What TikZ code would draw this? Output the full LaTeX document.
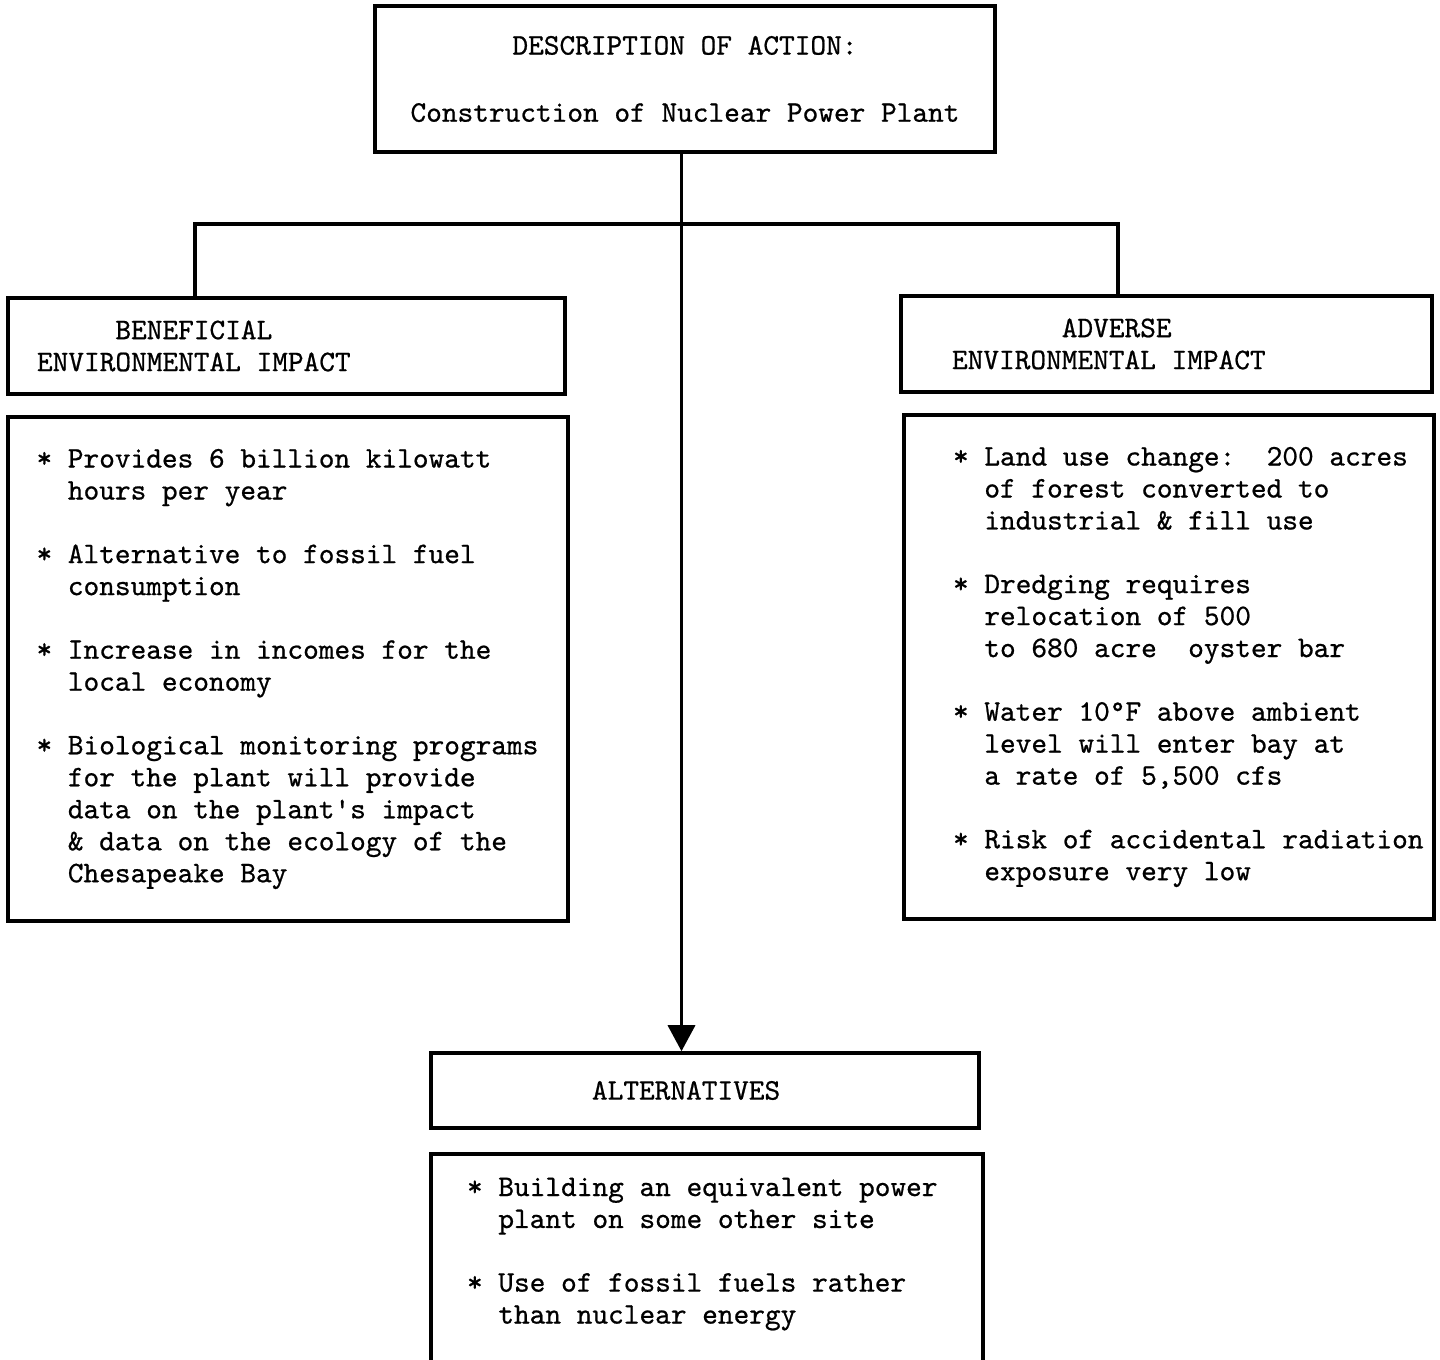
\documentclass[tikz,border=0pt]{standalone}
\usepackage{fontspec}
\usepackage{tikz}
\usetikzlibrary{arrows.meta}

% typewriter text with fixed word spaces
\newfontfamily\typerfont{lmmono10-regular}[Extension=.otf,FakeBold=0.7]
\newcommand\typer{\typerfont\fontsize{8.5}{9.1}\selectfont\frenchspacing}
\newcommand\fixspace{\spaceskip=\fontdimen2\font\relax\xspaceskip=\fontdimen2\font\relax}

\begin{document}
\begin{tikzpicture}[
    font=\typer,
    box/.style={shape=rectangle,draw=black,line width=1pt,execute at begin node=\fixspace},
    wire/.style={draw=black,line width=1pt}]
  \path[use as bounding box,clip] (0,0) rectangle (14.4,-13.6);

  \node[box,minimum width=6.20cm,minimum height=1.46cm,align=center] (action) at (6.85,-0.79)
    {DESCRIPTION OF ACTION:\\[10pt]Construction of Nuclear Power Plant};

  \node[box,inner xsep=0.29cm,text width=4.99cm,minimum height=0.96cm,align=left] (benhead) at (2.865,-3.46)
    {\phantom{ENVIR}BENEFICIAL\\ENVIRONMENTAL IMPACT};
  \node[box,inner xsep=0.51cm,text width=4.29cm,minimum height=0.96cm,align=left] (advhead) at (11.665,-3.44)
    {\phantom{ENVIRON}ADVERSE\\ENVIRONMENTAL IMPACT};

  \node[box,inner xsep=0.285cm,text width=5.03cm,minimum height=5.04cm,align=left] (benbody) at (2.88,-6.69)
    {* Provides 6 billion kilowatt\\
     \phantom{**}hours per year\\[9pt]
     * Alternative to fossil fuel\\
     \phantom{**}consumption\\[9pt]
     * Increase in incomes for the\\
     \phantom{**}local economy\\[9pt]
     \mbox{* Biological monitoring programs}\\
     \phantom{**}for the plant will provide\\
     \phantom{**}data on the plant's impact\\
     \phantom{**}\& data on the ecology of the\\
     \phantom{**}Chesapeake Bay};
  \node[box,inner xsep=0.49cm,text width=4.32cm,minimum height=5.04cm,align=left] (advbody) at (11.69,-6.67)
    {\mbox{* Land use change:~ 200 acres}\\
     \phantom{**}of forest converted to\\
     \phantom{**}industrial \& fill use\\[9pt]
     * Dredging requires\\
     \phantom{**}relocation of 500\\
     \phantom{**}to 680 acre~ oyster bar\\[9pt]
     * Water 10\textdegree F above ambient\\
     \phantom{**}level will enter bay at\\
     \phantom{**}a rate of 5,500 cfs\\[9pt]
     \mbox{* Risk of accidental radiation}\\
     \phantom{**}exposure very low};

  \node[box,inner xsep=1.61cm,text width=2.26cm,minimum height=0.75cm,align=left] (althead) at (7.05,-10.905)
    {ALTERNATIVES};
  \node[box,anchor=north,inner xsep=0.36cm,inner ysep=0.24cm,text width=4.80cm,align=left] (altbody) at (7.07,-11.52)
    {* Building an equivalent power\\
     \phantom{**}plant on some other site\\[9pt]
     * Use of fossil fuels rather\\
     \phantom{**}than nuclear energy\\[0.6cm]
     \mbox{}};

  \coordinate (stem) at (6.815,-2.24);
  \coordinate (lfork) at (1.95,-2.24);
  \coordinate (rfork) at (11.18,-2.24);

  \draw[wire,-{Triangle[length=0.26cm,width=0.27cm]}] (stem |- action.south) -- (stem |- althead.north);
  \draw[wire] (lfork |- benhead.north) -- (lfork) -- (rfork) -- (rfork |- advhead.north);
\end{tikzpicture}
\end{document}
